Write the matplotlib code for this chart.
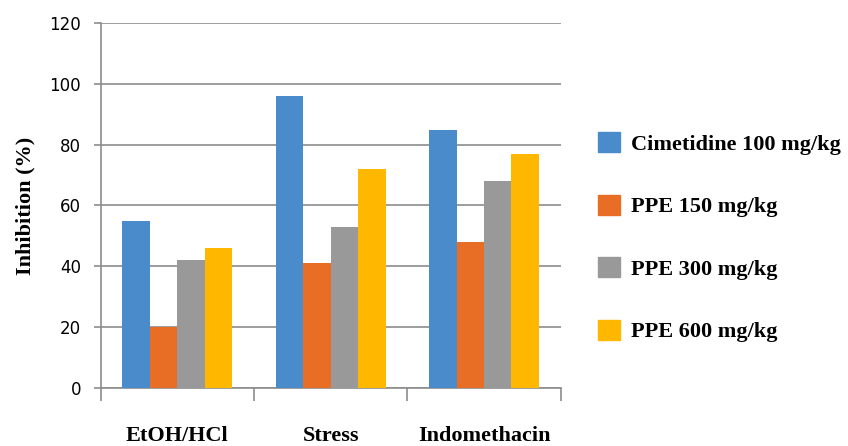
import matplotlib
matplotlib.use("Agg")

import matplotlib.pyplot as plt
import matplotlib.patches as mpatches
import numpy as np

categories = ["EtOH/HCl", "Stress", "Indomethacin"]
series_labels = ["Cimetidine 100 mg/kg", "PPE 150 mg/kg", "PPE 300 mg/kg", "PPE 600 mg/kg"]
cimetidine_100 = [55, 96, 85]
ppe_150 = [20, 41, 48]
ppe_300 = [42, 53, 68]
ppe_600 = [46, 72, 77]
y_ticks = [0, 20, 40, 60, 80, 100, 120]

COLORS = ["#4a8bcc", "#e86d25", "#999999", "#ffb700"]
GRID = "#8c8c8c"
SERIF = "Liberation Serif"

fig = plt.figure(figsize=(8.48, 4.46), dpi=100)
ax = fig.add_axes([0.1187, 0.1307, 0.5425, 0.8171])

series = [cimetidine_100, ppe_150, ppe_300, ppe_600]
x = np.arange(len(categories))
bar_w = 0.179
for i, (vals, col) in enumerate(zip(series, COLORS)):
    offset = (i - 1.5) * bar_w
    ax.bar(x + offset, vals, width=bar_w, color=col, zorder=3)

ax.set_xlim(-0.5, len(categories) - 0.5)
ax.set_ylim(0, 120)
ax.set_yticks(y_ticks)
ax.yaxis.grid(True, color=GRID, linewidth=1.2, zorder=0)
ax.tick_params(axis="y", length=5, color=GRID, width=1.2, labelsize=12, pad=9)

# category labels sit in the middle, ticks mark the group boundaries
ax.set_xticks(x)
ax.set_xticklabels(categories, fontfamily=SERIF, fontweight="bold", fontsize=16)
ax.tick_params(axis="x", length=0, pad=27.5)
ax.set_xticks(np.arange(-0.5, len(categories)), minor=True)
ax.tick_params(axis="x", which="minor", length=9, color=GRID, width=1.2)

for side in ("top", "right"):
    ax.spines[side].set_visible(False)
for side in ("left", "bottom"):
    ax.spines[side].set_color(GRID)
    ax.spines[side].set_linewidth(1.2)

ax.set_ylabel("Inhibition (%)", fontfamily=SERIF, fontweight="bold", fontsize=16, labelpad=10)

handles = [mpatches.Patch(color=c, label=l) for c, l in zip(COLORS, series_labels)]
fig.legend(handles=handles, loc="center left", bbox_to_anchor=(0.6816, 0.468),
           frameon=False, prop={"family": SERIF, "weight": "bold", "size": 16},
           handlelength=1.0, handleheight=1.0, handletextpad=0.5,
           labelspacing=1.8)

fig.savefig("out.png", dpi=100, facecolor="white")
